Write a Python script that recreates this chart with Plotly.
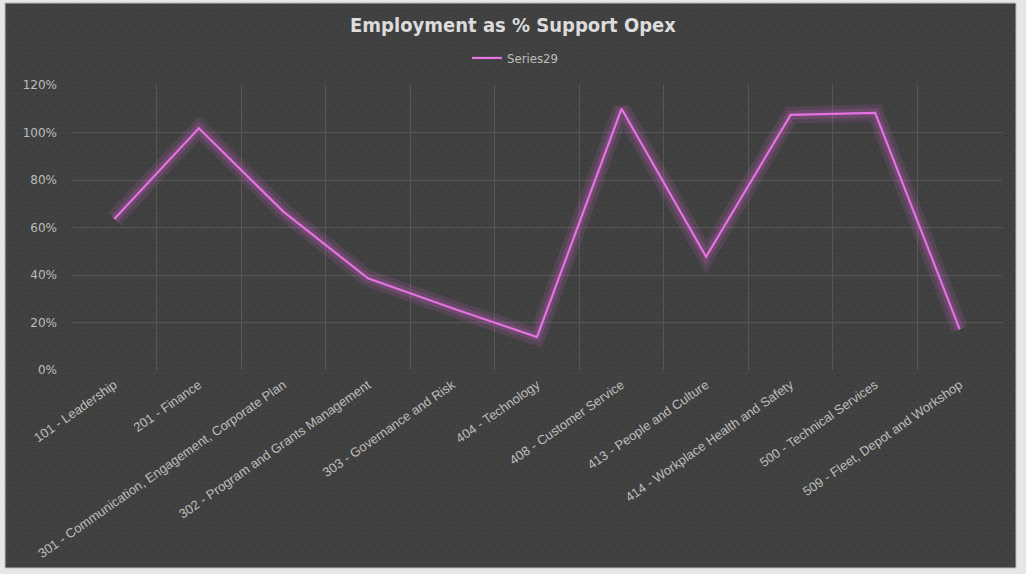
import base64, zlib, struct
import numpy as np
import plotly.graph_objects as go

categories = [
    "101 - Leadership",
    "201 - Finance",
    "301 - Communication, Engagement, Corporate Plan",
    "302 - Program and Grants Management",
    "303 - Governance and Risk",
    "404 - Technology",
    "408 - Customer Service",
    "413 - People and Culture",
    "414 - Workplace Health and Safety",
    "500 - Technical Services",
    "509 - Fleet, Depot and Workshop",
]
values = [0.636, 1.018, 0.667, 0.386, 0.26, 0.139, 1.10, 0.477, 1.074, 1.083, 0.171]
series_name = "Series29"
y_ticks = [0, 0.2, 0.4, 0.6, 0.8, 1.0, 1.2]

W, H = 1026, 574
L, R, T, B = 72, 24, 85, 204
pw, ph = W - L - R, H - T - B
BX0, BX1, BY0, BY1 = 5, 1016, 3, 568  # chart frame in pixels


def png_data_uri(arr):
    h, w, _ = arr.shape
    raw = b"".join(b"\x00" + arr[i].tobytes() for i in range(h))
    def chunk(t, d):
        c = struct.pack(">I", len(d)) + t + d
        return c + struct.pack(">I", zlib.crc32(t + d) & 0xffffffff)
    png = b"\x89PNG\r\n\x1a\n" + chunk(b"IHDR", struct.pack(">IIBBBBB", w, h, 8, 2, 0, 0, 0))
    png += chunk(b"IDAT", zlib.compress(raw, 9)) + chunk(b"IEND", b"")
    return "data:image/png;base64," + base64.b64encode(png).decode()


# dotted background texture
tw, th = BX1 - BX0, BY1 - BY0
tex = np.empty((th, tw, 3), dtype=np.uint8)
tex[:, :] = (66, 65, 65)
dot_a = np.array((44, 58, 58), dtype=np.uint8)
dot_b = np.array((58, 58, 42), dtype=np.uint8)
for r, yy in enumerate(range(2, th, 5)):
    off = 0 if r % 2 == 0 else 4
    for k, xx in enumerate(range(off, tw - 1, 8)):
        tex[yy, xx:xx + 2] = dot_a if (k + r) % 3 else dot_b

def px_x(p):
    return (p - L) / pw

def px_y(p):
    return (H - B - p) / ph

fig = go.Figure()
# glow layers
fig.add_trace(go.Scatter(x=categories, y=values, mode="lines",
                         line=dict(color="rgba(190,95,190,0.16)", width=17),
                         showlegend=False, hoverinfo="skip"))
fig.add_trace(go.Scatter(x=categories, y=values, mode="lines",
                         line=dict(color="rgba(190,95,190,0.22)", width=9),
                         showlegend=False, hoverinfo="skip"))
fig.add_trace(go.Scatter(x=categories, y=values, mode="lines", name=series_name,
                         line=dict(color="#e672e2", width=2.2)))

fig.add_layout_image(dict(source=png_data_uri(tex), xref="paper", yref="paper",
                          x=px_x(BX0), y=px_y(BY0), sizex=tw / pw, sizey=th / ph,
                          xanchor="left", yanchor="top", sizing="stretch", layer="below"))
fig.add_shape(type="rect", xref="paper", yref="paper",
              x0=px_x(BX0), x1=px_x(BX1), y0=px_y(BY1), y1=px_y(BY0),
              fillcolor="rgba(0,0,0,0)", line=dict(color="#bdbdbd", width=1), layer="above")

fig.update_layout(
    width=W, height=H,
    margin=dict(l=L, r=R, t=T, b=B),
    paper_bgcolor="#e6e6e6",
    plot_bgcolor="rgba(0,0,0,0)",
    title=dict(text="<b>Employment as % Support Opex</b>", x=0.5, xanchor="center",
               y=1 - 25 / H, yanchor="middle",
               font=dict(family="DejaVu Sans Condensed, DejaVu Sans, sans-serif", size=20, color="#dcdcdc")),
    legend=dict(orientation="h", x=px_x(515), xanchor="center", y=px_y(58), yanchor="middle",
                font=dict(family="DejaVu Sans Condensed, sans-serif", size=13, color="#bfbfbf"),
                bgcolor="rgba(0,0,0,0)"),
    showlegend=True,
    xaxis=dict(type="category", range=[-0.5, 10.5], tickson="boundaries", showgrid=True,
               gridcolor="#565656", gridwidth=1, tickangle=-35, ticks="", showline=False,
               zeroline=False, ticklabelstandoff=4,
               tickfont=dict(family="Liberation Sans, Arial, sans-serif", size=13, color="#bdbdbd")),
    yaxis=dict(range=[0, 1.2], tickvals=y_ticks, tickformat=".0%", showgrid=True,
               gridcolor="#565656", gridwidth=1, zeroline=False, showline=False, ticks="",
               ticklabelstandoff=14,
               tickfont=dict(family="DejaVu Sans, sans-serif", size=12, color="#bdbdbd")),
)

fig.write_html("out.html", config={"displayModeBar": False},
               post_script="document.body.style.margin='0';")
